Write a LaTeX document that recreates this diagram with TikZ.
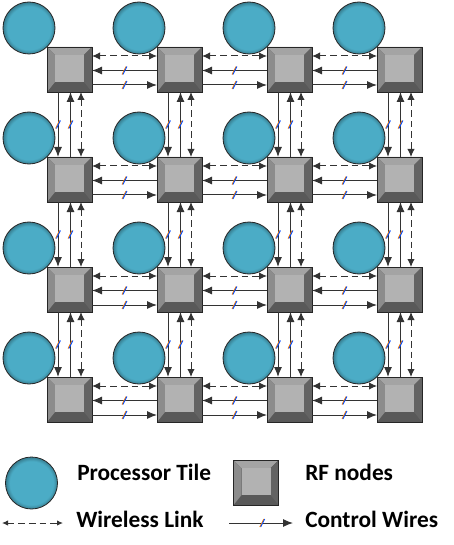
\documentclass[tikz,border=0pt]{standalone}
\usepackage{fontspec}
\setmainfont{Carlito}
\usetikzlibrary{calc, arrows.meta, positioning}
\definecolor{tileblue}{RGB}{75,172,198}
\definecolor{rfface}{RGB}{178,178,178}
\definecolor{rftop}{RGB}{164,164,164}
\definecolor{rfleft}{RGB}{140,140,140}
\definecolor{rfright}{RGB}{99,99,99}
\definecolor{rfdark}{RGB}{89,89,89}
\pgfdeclareradialshading{tileshade}{\pgfpoint{0bp}{0bp}}{color(0bp)=(tileblue); color(21bp)=(tileblue); color(25bp)=(tileblue!72!black); color(50bp)=(tileblue!72!black)}
\newcommand{\rfbevel}[1]{%
  \begin{scope}[shift={(#1.center)}]
    \fill[rftop] (-22.5,-22.5) -- (22.5,-22.5) -- (14.5,-14.5) -- (-14.5,-14.5) -- cycle;
    \fill[rfleft] (-22.5,-22.5) -- (-14.5,-14.5) -- (-14.5,12.5) -- (-22.5,22.5) -- cycle;
    \fill[rfright] (22.5,-22.5) -- (22.5,22.5) -- (14.5,12.5) -- (14.5,-14.5) -- cycle;
    \fill[rfface] (-14.5,-14.5) rectangle (14.5,12.5);
    \draw[black!85, line width=0.6pt] (-22.5,-22.5) rectangle (22.5,22.5);
  \end{scope}}
\tikzset{
  tile/.style={circle, minimum size=39pt, inner sep=0pt, draw=black!85, line width=0.6pt, shading=tileshade},
  rfnode/.style={rectangle, minimum size=33.75pt, inner sep=0pt, outer sep=0pt, fill=rfdark, draw=black!85, line width=0.6pt},
  control/.style={draw=black!80, line width=0.75pt, -{Latex[length=7.5pt,width=6pt]}},
  wireless/.style={draw=black!80, line width=0.75pt, dash pattern=on 5pt off 3pt, {Latex[length=6pt,width=5.5pt]}-{Latex[length=6pt,width=5.5pt]}},
  cwslash/.pic={
    \draw[-, solid, orange, line width=0.7pt] (-2.4,4) -- (1.6,-4);
    \draw[-, solid, blue!70!cyan, line width=0.7pt] (-1.6,4) -- (2.4,-4);},
  legtext/.style={anchor=west, inner sep=0pt, font=\bfseries\fontsize{17.5}{21}\selectfont}
}
\begin{document}
\begin{tikzpicture}[x=0.75pt, y=-0.75pt]
\useasboundingbox (0,0) rectangle (453,545);
% RF nodes
\foreach \r in {1,...,4}
  \foreach \c in {1,...,4} {
    \node[rfnode] (rf\r\c) at ({69.5+110*(\c-1)},{69.5+110*(\r-1)}) {};
    \rfbevel{rf\r\c}
  }
% links along the rows
\foreach \r in {1,...,4}
  \foreach \c/\n in {1/2,2/3,3/4} {
    \draw[wireless] ($(rf\r\c.east)+(0,-13.5)$) -- ($(rf\r\n.west)+(0,-13.5)$);
    \draw[control] ($(rf\r\n.west)+(0,1)$) -- pic[midway]{cwslash} ($(rf\r\c.east)+(0,1)$);
    \draw[control] ($(rf\r\c.east)+(0,15.5)$) -- pic[midway]{cwslash} ($(rf\r\n.west)+(0,15.5)$);
  }
% links along the columns
\foreach \c in {1,...,4}
  \foreach \r/\n in {1/2,2/3,3/4} {
    \draw[control] ($(rf\r\c.south)+(-11.5,0)$) -- pic[midway]{cwslash} ($(rf\n\c.north)+(-11.5,0)$);
    \draw[control] ($(rf\n\c.north)+(1,0)$) -- pic[midway]{cwslash} ($(rf\r\c.south)+(1,0)$);
    \draw[wireless] ($(rf\r\c.south)+(11.5,0)$) -- ($(rf\n\c.north)+(11.5,0)$);
  }
% processor tiles
\foreach \r in {1,...,4}
  \foreach \c in {1,...,4}
    \node[tile] (tile\r\c) at ({29+110*(\c-1)},{28+110*(\r-1)}) {};
% legend
\node[tile] (legtile) at (31.5,483) {};
\node[legtext] (legtiletext) at (77,472) {Processor Tile};
\node[rfnode] (legrf) at (256,482.5) {};
\rfbevel{legrf}
\node[legtext] (legrftext) at (305,472) {RF nodes};
\coordinate (wlA) at (2,523);
\coordinate (wlB) at (63,523);
\draw[wireless, {Latex[length=4.5pt,width=4pt]}-{Latex[length=4.5pt,width=4pt]}] (wlA) -- (wlB);
\node[legtext] (legwltext) at (76,519) {Wireless Link};
\coordinate (cwA) at (229,523);
\coordinate (cwB) at (293,523);
\draw[control] (cwA) -- pic[pos=0.52]{cwslash} (cwB);
\node[legtext] (legcwtext) at (305,519) {Control Wires};
\end{tikzpicture}
\end{document}
